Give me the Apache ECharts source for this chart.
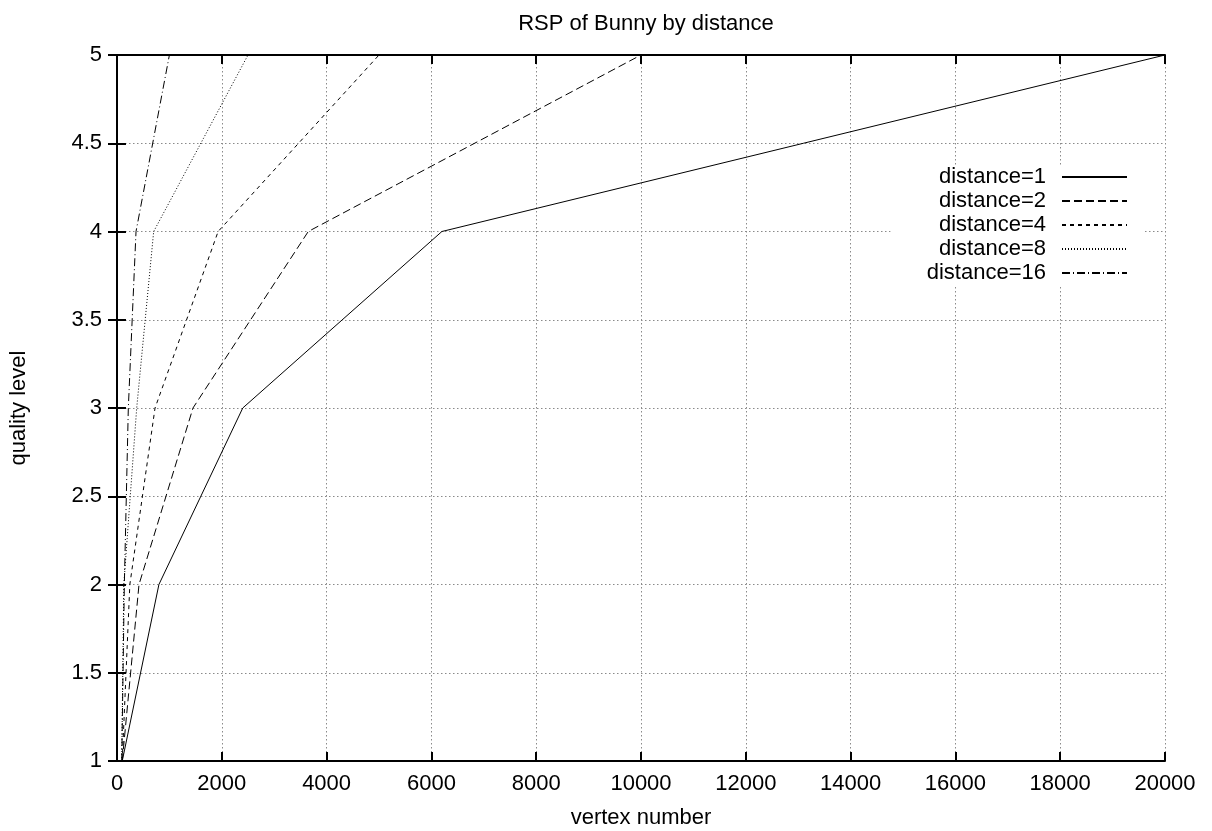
<!DOCTYPE html>
<html>
<head>
<meta charset="utf-8">
<script src="https://cdn.jsdelivr.net/npm/echarts@6/dist/echarts.min.js"></script>
<style>
  html, body { margin: 0; padding: 0; background: #fff; }
  #chart { width: 1212px; height: 831px; }
</style>
</head>
<body>
<div id="chart"></div>
<script>
// ---- data ----
const levels = [1, 2, 3, 4, 5];
const seriesNames = ['distance=1', 'distance=2', 'distance=4', 'distance=8', 'distance=16'];
const vertDist1  = [100, 800, 2400, 6200, 20000];
const vertDist2  = [100, 420, 1450, 3650, 10000];
const vertDist4  = [100, 245, 726, 1930, 5000];
const vertDist8  = [90, 130, 376, 700, 2500];
const vertDist16 = [90, 140, 216, 363, 1000];
const xTicks = [0, 2000, 4000, 6000, 8000, 10000, 12000, 14000, 16000, 18000, 20000];
const yTicks = [1, 1.5, 2, 2.5, 3, 3.5, 4, 4.5, 5];

const FONT = '"Liberation Sans", Arial, Helvetica, sans-serif';
const FS = 22;
const dashes = ['solid', [8, 4], [4, 4], [1, 2], [8, 3, 1, 3]];
const allVerts = [vertDist1, vertDist2, vertDist4, vertDist8, vertDist16];

const chart = echarts.init(document.getElementById('chart'), null, { renderer: 'canvas' });

const gridLine = { show: true, lineStyle: { color: '#8a8a8a', width: 1, type: [1.5, 2.5] } };
const borderLine = { show: true, lineStyle: { color: '#000', width: 2 } };
const tickIn = { show: true, inside: true, length: 9, lineStyle: { color: '#000', width: 2 } };

const xMin = xTicks[0], xMax = xTicks[xTicks.length - 1], xInt = xTicks[1] - xTicks[0];
const yMin = yTicks[0], yMax = yTicks[yTicks.length - 1], yInt = yTicks[1] - yTicks[0];

chart.setOption({
  animation: false,
  backgroundColor: '#fff',
  textStyle: { fontFamily: FONT },
  title: {
    text: 'RSP of Bunny by distance',
    left: 641, top: 8, textAlign: 'center',
    textStyle: { fontFamily: FONT, fontSize: FS, fontWeight: 'normal', color: '#000' }
  },
  grid: { left: 117, right: 47, top: 55, bottom: 70, containLabel: false, outerBoundsMode: 'none' },
  legend: {
    data: seriesNames,
    orient: 'vertical',
    align: 'right',
    right: 69, top: 165,
    itemWidth: 65, itemHeight: 14, itemGap: 0,
    backgroundColor: '#fff',
    padding: [0, 15, 0, 36],
    selectedMode: false,
    itemStyle: { opacity: 0 },
    textStyle: { fontFamily: FONT, fontSize: FS, lineHeight: 24, color: '#000', padding: [0, 11, 0, 0] }
  },
  xAxis: [
    {
      type: 'value', min: xMin, max: xMax, interval: xInt, position: 'bottom',
      name: 'vertex number', nameLocation: 'middle', nameGap: 46,
      nameTextStyle: { fontFamily: FONT, fontSize: FS, color: '#000' },
      axisLine: borderLine, axisTick: tickIn,
      axisLabel: { fontFamily: FONT, fontSize: FS, color: '#000', margin: 12, formatter: v => String(v) },
      splitLine: gridLine
    },
    {
      type: 'value', min: xMin, max: xMax, interval: xInt, position: 'top',
      axisLine: borderLine, axisTick: tickIn, axisLabel: { show: false }, splitLine: { show: false }
    }
  ],
  yAxis: [
    {
      type: 'value', min: yMin, max: yMax, interval: yInt, position: 'left',
      name: 'quality level', nameLocation: 'middle', nameGap: 87, nameRotate: 90,
      nameTextStyle: { fontFamily: FONT, fontSize: FS, color: '#000' },
      axisLine: borderLine, axisTick: tickIn,
      axisLabel: { fontFamily: FONT, fontSize: FS, color: '#000', margin: 15, formatter: v => String(v) },
      splitLine: gridLine
    },
    {
      type: 'value', min: yMin, max: yMax, interval: yInt, position: 'right',
      axisLine: borderLine, axisTick: tickIn, axisLabel: { show: false }, splitLine: { show: false }
    }
  ],
  series: seriesNames.map((name, k) => ({
    name: name,
    type: 'line',
    xAxisIndex: 0, yAxisIndex: 0,
    symbol: 'none',
    color: '#000',
    lineStyle: { color: '#000', width: 1, type: dashes[k] },
    data: allVerts[k].map((v, i) => [v, levels[i]])
  }))
});
</script>
</body>
</html>
